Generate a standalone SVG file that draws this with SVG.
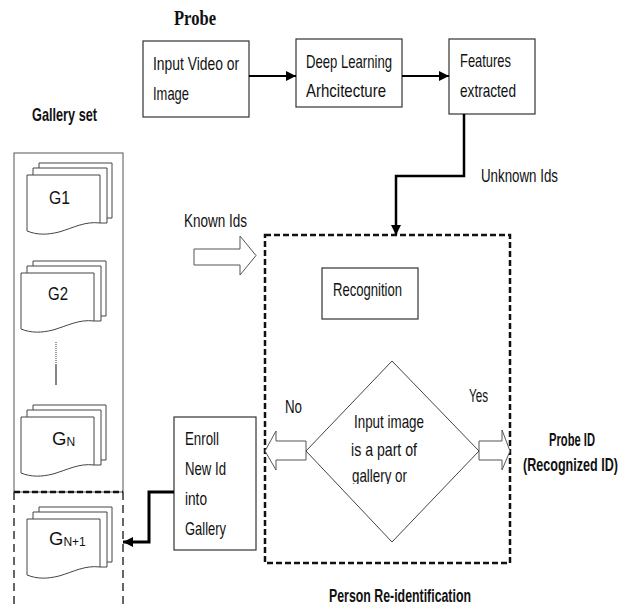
<svg xmlns="http://www.w3.org/2000/svg" width="629" height="607" viewBox="0 0 629 607">
<style>
text{font-family:"Liberation Sans Narrow","Liberation Sans",Arial,sans-serif;font-size:18.5px;fill:#111}
.b{font-weight:bold;font-size:18.5px}
.box{fill:#fff;stroke:#333;stroke-width:1.2}
.pg{fill:#fff;stroke:#444;stroke-width:1}
.hol{fill:#fff;stroke:#555;stroke-width:1}
.conn{fill:none;stroke:#000}
.dash{fill:none;stroke:#111;stroke-width:2.5;stroke-dasharray:6 3}
.sub{font-size:12px}
</style>
<defs>
<marker id="ah" viewBox="0 0 10 10" refX="10" refY="5" markerWidth="10" markerHeight="10" markerUnits="userSpaceOnUse" orient="auto">
<path d="M0,0 L10,5 L0,10 z" fill="#000"/>
</marker>
<g id="stack">
<path class="pg" d="M12,-6 V-12 H85 V43 H80"/>
<path class="pg" d="M6,0 V-7 H80 V48 H73"/>
<path class="pg" d="M0,0 H73 V48 C58,46 46,53 32,57 C20,60 10,60 0,56 Z"/>
</g>
<clipPath id="clipd"><rect x="300" y="360" width="180" height="124"/></clipPath>
</defs>

<text id="probe-title" x="174" y="25" textLength="42" lengthAdjust="spacingAndGlyphs" style="font-family:'Liberation Serif','Times New Roman',serif;font-weight:bold;font-size:21px">Probe</text>

<g id="gallery">
<text class="b" x="32" y="121" textLength="65" lengthAdjust="spacingAndGlyphs">Gallery set</text>
<rect x="14" y="153" width="109" height="339" fill="none" stroke="#555" stroke-width="1"/>
<line x1="56" y1="342" x2="56" y2="365" stroke="#333" stroke-width="1" stroke-dasharray="1 1"/>
<line x1="56" y1="365" x2="56" y2="385" stroke="#333" stroke-width="1.2"/>
</g>
<g id="g1">
<use href="#stack" x="27" y="175"/>
<text x="49" y="204" textLength="21" lengthAdjust="spacingAndGlyphs">G1</text>
</g>
<g id="g2">
<use href="#stack" x="21" y="273"/>
<text x="48" y="300" textLength="20" lengthAdjust="spacingAndGlyphs">G2</text>
</g>
<g id="gn">
<use href="#stack" x="21" y="417"/>
<text x="52" y="445">G<tspan class="sub" dy="1">N</tspan></text>
</g>
<g id="gn1">
<path d="M14,492 H123" fill="none" stroke="#111" stroke-width="2.5" stroke-dasharray="6 3"/>
<path d="M14,492 V607 M123,492 V607" fill="none" stroke="#333" stroke-width="1.5" stroke-dasharray="8 5"/>
<use href="#stack" x="27" y="519"/>
<text x="49" y="545">G<tspan class="sub" dy="1">N+1</tspan></text>
</g>

<g id="input">
<rect class="box" x="143" y="41" width="106" height="76"/>
<text x="153" y="70" textLength="86" lengthAdjust="spacingAndGlyphs">Input Video or</text>
<text x="153" y="100" textLength="36" lengthAdjust="spacingAndGlyphs">Image</text>
</g>
<g id="deep">
<rect class="box" x="296" y="39" width="106" height="68"/>
<text x="306" y="68" textLength="86" lengthAdjust="spacingAndGlyphs">Deep Learning</text>
<text x="306" y="97" textLength="80" lengthAdjust="spacingAndGlyphs">Arhcitecture</text>
</g>
<g id="features">
<rect class="box" x="449" y="39" width="86" height="75"/>
<text x="460" y="67" textLength="51" lengthAdjust="spacingAndGlyphs">Features</text>
<text x="460" y="97" textLength="56" lengthAdjust="spacingAndGlyphs">extracted</text>
</g>

<g id="reid">
<rect class="dash" x="265" y="235" width="245" height="328"/>
<text class="b" x="329" y="602" textLength="142" lengthAdjust="spacingAndGlyphs">Person Re-identification</text>
</g>
<g id="recognition">
<rect class="box" x="322" y="268" width="96" height="51"/>
<text x="333" y="296" textLength="69" lengthAdjust="spacingAndGlyphs">Recognition</text>
</g>
<g id="no-arrow">
<polygon class="hol" points="306,441 276,441 276,431 265,451 276,470 276,460 306,460"/>
<text x="285" y="413" textLength="17" lengthAdjust="spacingAndGlyphs">No</text>
</g>
<g id="yes-arrow">
<polygon class="hol" points="479,441 502,441 502,430 510,451 502,470 502,460 479,460"/>
<text x="469" y="402" textLength="19" lengthAdjust="spacingAndGlyphs">Yes</text>
</g>
<g id="decision">
<polygon points="392,361 479,451 392,542 306,451" fill="none" stroke="#444" stroke-width="1"/>
<text x="354" y="428" textLength="70" lengthAdjust="spacingAndGlyphs">Input image</text>
<text x="351" y="456" textLength="66" lengthAdjust="spacingAndGlyphs">is a part of</text>
<text x="352" y="482" textLength="55" lengthAdjust="spacingAndGlyphs" clip-path="url(#clipd)">gallery or</text>
</g>
<g id="probe-id">
<text class="b" x="549" y="446" textLength="46" lengthAdjust="spacingAndGlyphs">Probe ID</text>
<text class="b" transform="translate(523,471) scale(0.68,1)" x="0" y="0">(Recognized ID)</text>
</g>
<g id="known">
<polygon class="hol" points="194,249 240,249 240,236 256,255.5 240,275 240,265 194,265"/>
<text x="184" y="227" textLength="63" lengthAdjust="spacingAndGlyphs">Known Ids</text>
</g>
<g id="enroll">
<rect class="box" x="174" y="417" width="82" height="133"/>
<text x="185" y="445" textLength="34" lengthAdjust="spacingAndGlyphs">Enroll</text>
<text x="185" y="475" textLength="41" lengthAdjust="spacingAndGlyphs">New Id</text>
<text x="185" y="505" textLength="22" lengthAdjust="spacingAndGlyphs">into</text>
<text x="185" y="535" textLength="41" lengthAdjust="spacingAndGlyphs">Gallery</text>
</g>

<g id="connectors">
<line class="conn" x1="249" y1="76" x2="296" y2="76" stroke-width="2" marker-end="url(#ah)"/>
<line class="conn" x1="402" y1="76" x2="449" y2="76" stroke-width="2" marker-end="url(#ah)"/>
<path class="conn" d="M464,114 V176 H396 V235" stroke-width="2.5" marker-end="url(#ah)"/>
<path class="conn" d="M174,492 H149 V542 H123" stroke-width="3" marker-end="url(#ah)"/>
<text x="481" y="182" textLength="77" lengthAdjust="spacingAndGlyphs">Unknown Ids</text>
</g>
</svg>
